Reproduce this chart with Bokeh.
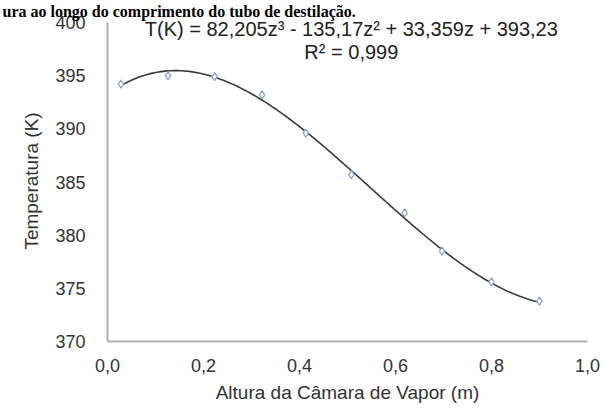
from bokeh.plotting import figure
from bokeh.models import Range1d, FixedTicker, CustomJSTickFormatter, Label, Title
from bokeh.embed import file_html
from bokeh.resources import INLINE
import numpy as np

# data
altura = [0.028, 0.126, 0.223, 0.322, 0.413, 0.508, 0.619, 0.697, 0.800, 0.900]
temperatura = [394.2, 395.0, 394.9, 393.2, 389.6, 385.7, 382.1, 378.5, 375.6, 373.8]
coef = [82.205, -135.17, 33.359, 393.23]  # trendline shown in the chart
x_ticks = [0.0, 0.2, 0.4, 0.6, 0.8, 1.0]
y_ticks = [370, 375, 380, 385, 390, 395, 400]
equation = "T(K) = 82,205z³ - 135,17z² + 33,359z + 393,23"
r2_text = "R² = 0,999"
caption = "ura ao longo do comprimento do tubo de destilação."

TOP = 20  # px of the caption strip above the frame
p = figure(width=606, height=419, output_backend="svg", toolbar_location=None,
           x_range=Range1d(0, 1.0), y_range=Range1d(370, 400 + 2 / 10.633),
           min_border_left=107, min_border_right=19, min_border_top=TOP, min_border_bottom=78)
p.outline_line_color = None
p.xgrid.visible = False
p.ygrid.visible = False
p.background_fill_color = "white"
p.border_fill_color = "white"

p.add_layout(Title(text=caption, align="left", offset=-105, standoff=1,
                   text_font="Liberation Serif", text_font_size="16px",
                   text_font_style="bold", text_color="black"), "above")

zs = np.linspace(min(altura), max(altura), 200)
ts = np.polyval(coef, zs)
p.line(zs, ts, line_color="#3a3a3a", line_width=1.6)
p.scatter(altura, temperatura, marker="diamond", size=8, fill_color="white",
          line_color="#8aa6d2", line_width=1.3)

font = "Liberation Sans"
for ax in (p.xaxis[0], p.yaxis[0]):
    ax.axis_line_color = "#b0b0b0"
    ax.axis_line_width = 2
    ax.major_tick_line_color = None
    ax.minor_tick_line_color = None
    ax.major_tick_out = 0
    ax.major_tick_in = 0
    ax.minor_tick_out = 0
    ax.major_label_text_font = font
    ax.major_label_text_font_size = "18px"
    ax.major_label_text_color = "#333333"
    ax.axis_label_text_font = font
    ax.axis_label_text_font_size = "19px"
    ax.axis_label_text_font_style = "normal"
    ax.axis_label_text_color = "#333333"

p.yaxis.bounds = (370, 400)
p.xaxis.ticker = FixedTicker(ticks=x_ticks)
p.yaxis.ticker = FixedTicker(ticks=y_ticks)
p.xaxis.formatter = CustomJSTickFormatter(code="return tick.toFixed(1).replace('.', ',');")
p.xaxis.axis_label = "Altura da Câmara de Vapor (m)"
p.yaxis.axis_label = "Temperatura (K)"
p.xaxis.major_label_standoff = 17
p.yaxis.major_label_standoff = 22
p.xaxis.axis_label_standoff = 7
p.yaxis.axis_label_standoff = 10

p.add_layout(Label(x=0.508, y=399.38, text=equation, text_font=font, text_font_size="20px",
                   text_color="#222222", text_baseline="middle", text_align="center"))
p.add_layout(Label(x=0.508, y=397.25, text=r2_text, text_font=font, text_font_size="20px",
                   text_color="#222222", text_baseline="middle", text_align="center"))

open("out.html", "w").write(file_html(p, INLINE))
